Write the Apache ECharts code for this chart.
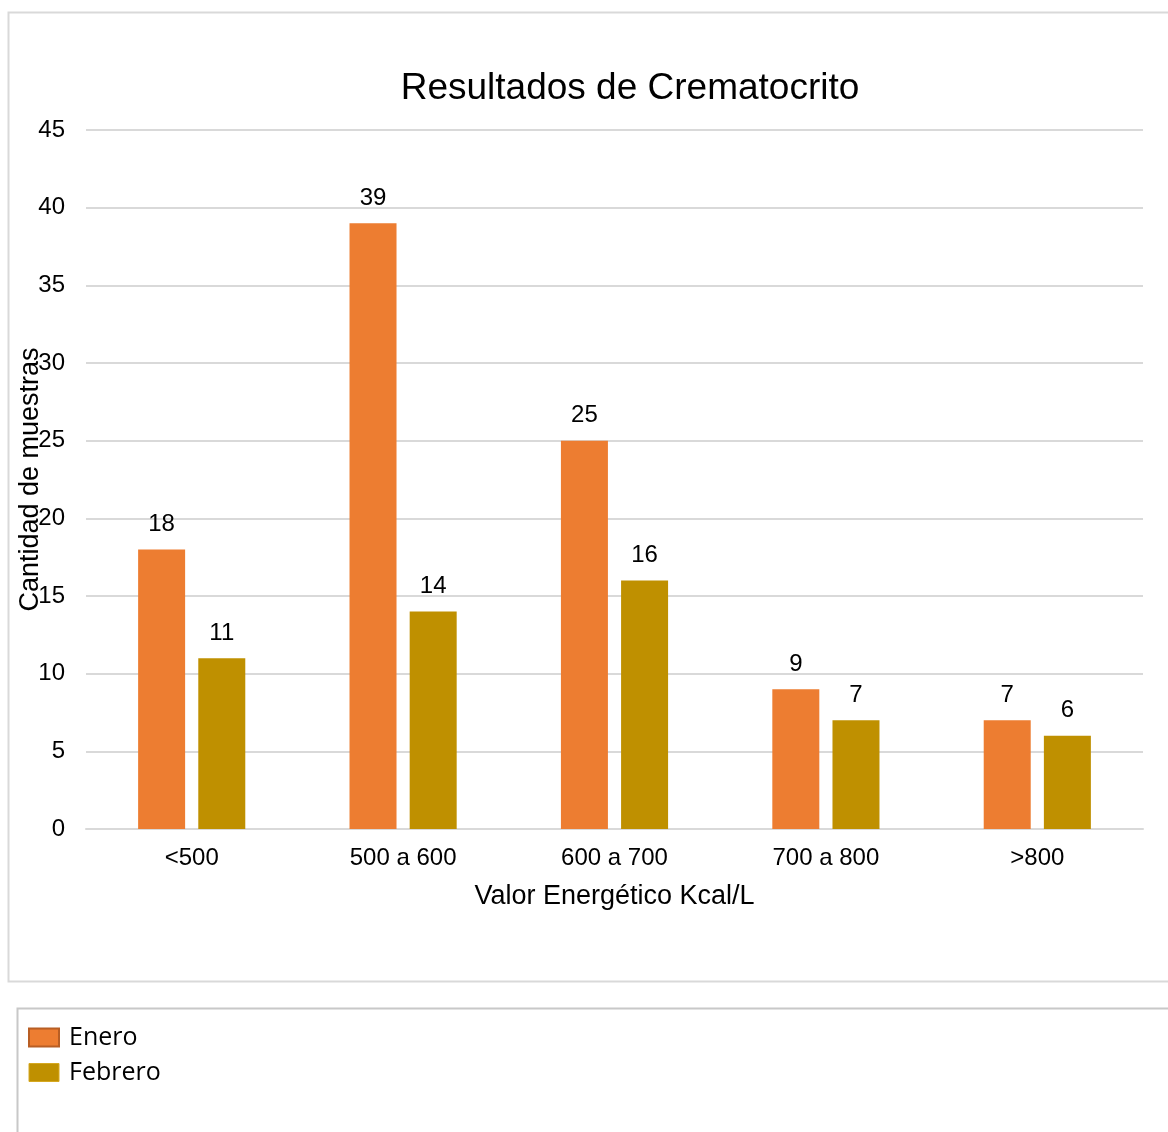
<!DOCTYPE html>
<html>
<head>
<meta charset="utf-8">
<script src="https://cdn.jsdelivr.net/npm/echarts@6/dist/echarts.min.js"></script>
<style>
  html, body { margin: 0; padding: 0; background: #fff; }
  #chart { width: 1168px; height: 1132px; }
</style>
</head>
<body>
<div id="chart"></div>
<script>
// Energy ranges (Kcal/L) and sample counts per month
const categories = ['<500', '500 a 600', '600 a 700', '700 a 800', '>800'];
const enero = [18, 39, 25, 9, 7];
const febrero = [11, 14, 16, 7, 6];
const yTicks = { min: 0, max: 45, interval: 5 };

const chart = echarts.init(document.getElementById('chart'));
const txt = '#000';
const sans = '"Liberation Sans", Arial, sans-serif';

chart.setOption({
  animation: false,
  backgroundColor: '#fff',
  title: {
    text: 'Resultados de Crematocrito',
    left: 625, top: 65, textAlign: 'center',
    textStyle: { fontFamily: sans, fontSize: 37, fontWeight: 'normal', color: txt }
  },
  graphic: [
    { type: 'rect', shape: { x: 8.5, y: 12.5, width: 1170, height: 969 },
      style: { fill: 'none', stroke: '#d9d9d9', lineWidth: 2 }, silent: true, z: -1 },
    { type: 'rect', shape: { x: 17.5, y: 1008.5, width: 1170, height: 200 },
      style: { fill: 'none', stroke: '#c8c8c8', lineWidth: 2 }, silent: true, z: -1 }
  ],
  legend: {
    orient: 'vertical', left: 23, top: 1020, icon: 'rect',
    itemWidth: 30, itemHeight: 18, itemGap: 10,
    textStyle: { fontFamily: '"Open Sans", "Noto Sans", sans-serif', fontSize: 25, color: txt, padding: [0, 0, 0, 5] },
    data: [
      { name: 'Enero', itemStyle: { color: '#ED7D31', borderColor: '#B85E24', borderWidth: 2 } },
      { name: 'Febrero', itemStyle: { color: '#BF9000', borderColor: '#D6A820', borderWidth: 1 } }
    ]
  },
  grid: { left: 86, right: 25, top: 130, bottom: 303, containLabel: false, outerBoundsMode: 'none' },
  xAxis: {
    type: 'category', data: categories,
    name: 'Valor Energético Kcal/L', nameLocation: 'middle', nameGap: 54, nameMoveOverlap: false,
    nameTextStyle: { fontFamily: sans, fontSize: 27, color: txt },
    axisLine: { lineStyle: { color: '#d9d9d9', width: 2 } },
    axisTick: { show: false },
    axisLabel: { fontFamily: sans, fontSize: 24, color: txt, margin: 17 }
  },
  yAxis: {
    type: 'value', min: yTicks.min, max: yTicks.max, interval: yTicks.interval,
    name: 'Cantidad de muestras', nameLocation: 'middle', nameGap: 42, nameMoveOverlap: false,
    nameTextStyle: { fontFamily: sans, fontSize: 27, color: txt },
    axisLine: { show: false }, axisTick: { show: false },
    axisLabel: { fontFamily: sans, fontSize: 24, color: txt, margin: 21 },
    splitLine: { lineStyle: { color: '#d9d9d9', width: 2 } }
  },
  series: [
    { name: 'Enero', type: 'bar', data: enero, barWidth: 47, barGap: '28%',
      itemStyle: { color: '#ED7D31' },
      label: { show: true, position: 'top', distance: 13, fontFamily: sans, fontSize: 24, color: txt } },
    { name: 'Febrero', type: 'bar', data: febrero, barWidth: 47,
      itemStyle: { color: '#BF9000' },
      label: { show: true, position: 'top', distance: 13, fontFamily: sans, fontSize: 24, color: txt } }
  ]
});
</script>
</body>
</html>
